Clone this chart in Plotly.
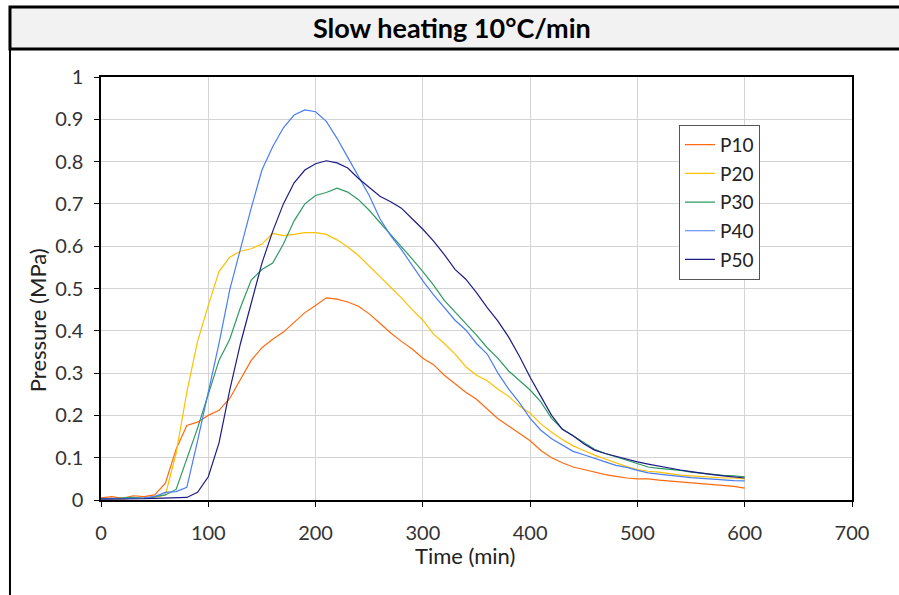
import plotly.graph_objects as go

# time axis (min)
time_min = [0, 10, 20, 30, 40, 50, 60, 70, 80, 90, 100, 110, 120, 130, 140, 150, 160, 170, 180, 190,
            200, 210, 220, 230, 240, 250, 260, 270, 280, 290, 300, 310, 320, 330, 340, 350, 360, 370,
            380, 390, 400, 410, 420, 430, 440, 450, 460, 470, 480, 490, 500, 510, 520, 530, 540, 550,
            560, 570, 580, 590, 600]

# pressure readings (MPa)
p10 = [0.005, 0.008, 0.004, 0.010, 0.008, 0.012, 0.040, 0.120, 0.176, 0.184, 0.200, 0.212, 0.240,
       0.285, 0.330, 0.360, 0.380, 0.397, 0.420, 0.443, 0.460, 0.478, 0.475, 0.468, 0.458, 0.440,
       0.418, 0.395, 0.375, 0.357, 0.335, 0.320, 0.295, 0.275, 0.255, 0.238, 0.215, 0.192, 0.175,
       0.157, 0.140, 0.117, 0.100, 0.088, 0.078, 0.072, 0.066, 0.060, 0.056, 0.052, 0.050, 0.050,
       0.047, 0.045, 0.043, 0.040, 0.038, 0.036, 0.034, 0.032, 0.028]
p20 = [0.003, 0.004, 0.002, 0.005, 0.004, 0.006, 0.012, 0.110, 0.255, 0.375, 0.460, 0.540, 0.574,
       0.588, 0.594, 0.605, 0.630, 0.625, 0.628, 0.632, 0.632, 0.628, 0.615, 0.598, 0.578, 0.552,
       0.528, 0.503, 0.478, 0.450, 0.425, 0.392, 0.370, 0.345, 0.315, 0.295, 0.282, 0.262, 0.245,
       0.222, 0.205, 0.180, 0.160, 0.143, 0.128, 0.117, 0.106, 0.097, 0.088, 0.079, 0.072, 0.068,
       0.066, 0.062, 0.059, 0.057, 0.055, 0.053, 0.052, 0.052, 0.050]
p30 = [0.004, 0.003, 0.005, 0.006, 0.004, 0.008, 0.012, 0.025, 0.095, 0.170, 0.250, 0.330, 0.380,
       0.455, 0.520, 0.545, 0.560, 0.605, 0.660, 0.700, 0.720, 0.727, 0.737, 0.728, 0.710, 0.685,
       0.656, 0.628, 0.600, 0.570, 0.540, 0.508, 0.472, 0.445, 0.418, 0.390, 0.360, 0.335, 0.305,
       0.283, 0.260, 0.232, 0.193, 0.168, 0.152, 0.134, 0.120, 0.110, 0.102, 0.093, 0.085, 0.078,
       0.075, 0.073, 0.070, 0.066, 0.063, 0.060, 0.058, 0.057, 0.055]
p40 = [0.003, 0.004, 0.003, 0.004, 0.005, 0.008, 0.018, 0.020, 0.030, 0.140, 0.255, 0.370, 0.497,
       0.595, 0.690, 0.780, 0.835, 0.880, 0.910, 0.922, 0.918, 0.895, 0.855, 0.810, 0.765, 0.720,
       0.665, 0.625, 0.592, 0.555, 0.518, 0.485, 0.454, 0.425, 0.402, 0.370, 0.345, 0.300, 0.262,
       0.230, 0.193, 0.165, 0.145, 0.130, 0.115, 0.107, 0.098, 0.090, 0.082, 0.077, 0.070, 0.064,
       0.061, 0.058, 0.055, 0.053, 0.051, 0.049, 0.047, 0.046, 0.045]
p50 = [0.002, 0.002, 0.002, 0.003, 0.003, 0.004, 0.005, 0.005, 0.006, 0.018, 0.055, 0.135, 0.260,
       0.370, 0.467, 0.560, 0.635, 0.700, 0.750, 0.780, 0.795, 0.802, 0.797, 0.785, 0.760, 0.738,
       0.718, 0.705, 0.690, 0.665, 0.640, 0.612, 0.580, 0.545, 0.522, 0.490, 0.455, 0.423, 0.385,
       0.340, 0.290, 0.245, 0.200, 0.167, 0.152, 0.133, 0.118, 0.110, 0.103, 0.097, 0.090, 0.085,
       0.080, 0.075, 0.071, 0.067, 0.063, 0.060, 0.057, 0.054, 0.052]

names = ["P10", "P20", "P30", "P40", "P50"]
series = [p10, p20, p30, p40, p50]
colors = ["#FF6A10", "#FFC000", "#2F9A62", "#4A7DF5", "#1C1C84"]

FONT = "Lato, 'Open Sans', sans-serif"

fig = go.Figure()
for name, vals, col in zip(names, series, colors):
    fig.add_trace(go.Scatter(x=time_min, y=vals, mode="lines", name=name, legendgroup=name,
                             line=dict(color=col, width=1.2)))

axis_common = dict(showline=True, linecolor="black", linewidth=1.5, mirror=True,
                   ticks="outside", ticklen=5, tickcolor="black",
                   showgrid=True, gridcolor="#d4d4d4", gridwidth=1, zeroline=False,
                   tickfont=dict(family=FONT, size=20, color="#333333"))

fig.update_xaxes(range=[0, 700], dtick=100, tick0=0, ticklabelstandoff=9, **axis_common)
fig.update_yaxes(range=[0, 1], dtick=0.1, tick0=0, ticklabelstandoff=7, **axis_common)

# paper coords: x 0->101px, 1->852px ; y 0->500px, 1->77px
fig.update_layout(
    width=899, height=595,
    margin=dict(l=101, r=47, t=77, b=95),
    paper_bgcolor="white", plot_bgcolor="white",
    font=dict(family=FONT, color="#333333"),
    showlegend=True,
    legend=dict(x=0.7696, y=0.887, xanchor="left", yanchor="top",
                bgcolor="white", bordercolor="#555555", borderwidth=1,
                font=dict(family=FONT, size=19, color="#222222"),
                tracegroupgap=1, itemwidth=30),
    shapes=[
        # title band
        dict(type="rect", xref="paper", yref="paper", x0=-0.1212, x1=1.075, y0=1.0662, y1=1.1655,
             fillcolor="#f2f2f2", line=dict(color="black", width=3), layer="below"),
        # outer left border
        dict(type="line", xref="paper", yref="paper", x0=-0.1212, x1=-0.1212, y0=1.0662, y1=-0.25,
             line=dict(color="black", width=2)),
    ],
    annotations=[
        dict(text="<b>Slow heating 10°C/min</b>", xref="paper", yref="paper", x=0.467, y=1.116,
             showarrow=False, font=dict(family=FONT, size=27, color="black"),
             xanchor="center", yanchor="middle"),
        dict(text="Time (min)", xref="paper", yref="paper", x=0.485, y=-0.132,
             showarrow=False, font=dict(family=FONT, size=22, color="#222222"),
             xanchor="center", yanchor="middle"),
        dict(text="Pressure (MPa)", xref="paper", yref="paper", x=-0.085, y=0.4255, textangle=-90,
             showarrow=False, font=dict(family=FONT, size=22, color="#222222"),
             xanchor="center", yanchor="middle"),
    ],
)

# drop the default page margin so the figure sits at the window's top-left corner
fig.write_html("out.html", config={"displayModeBar": False},
               post_script="document.body.style.margin='0';")
